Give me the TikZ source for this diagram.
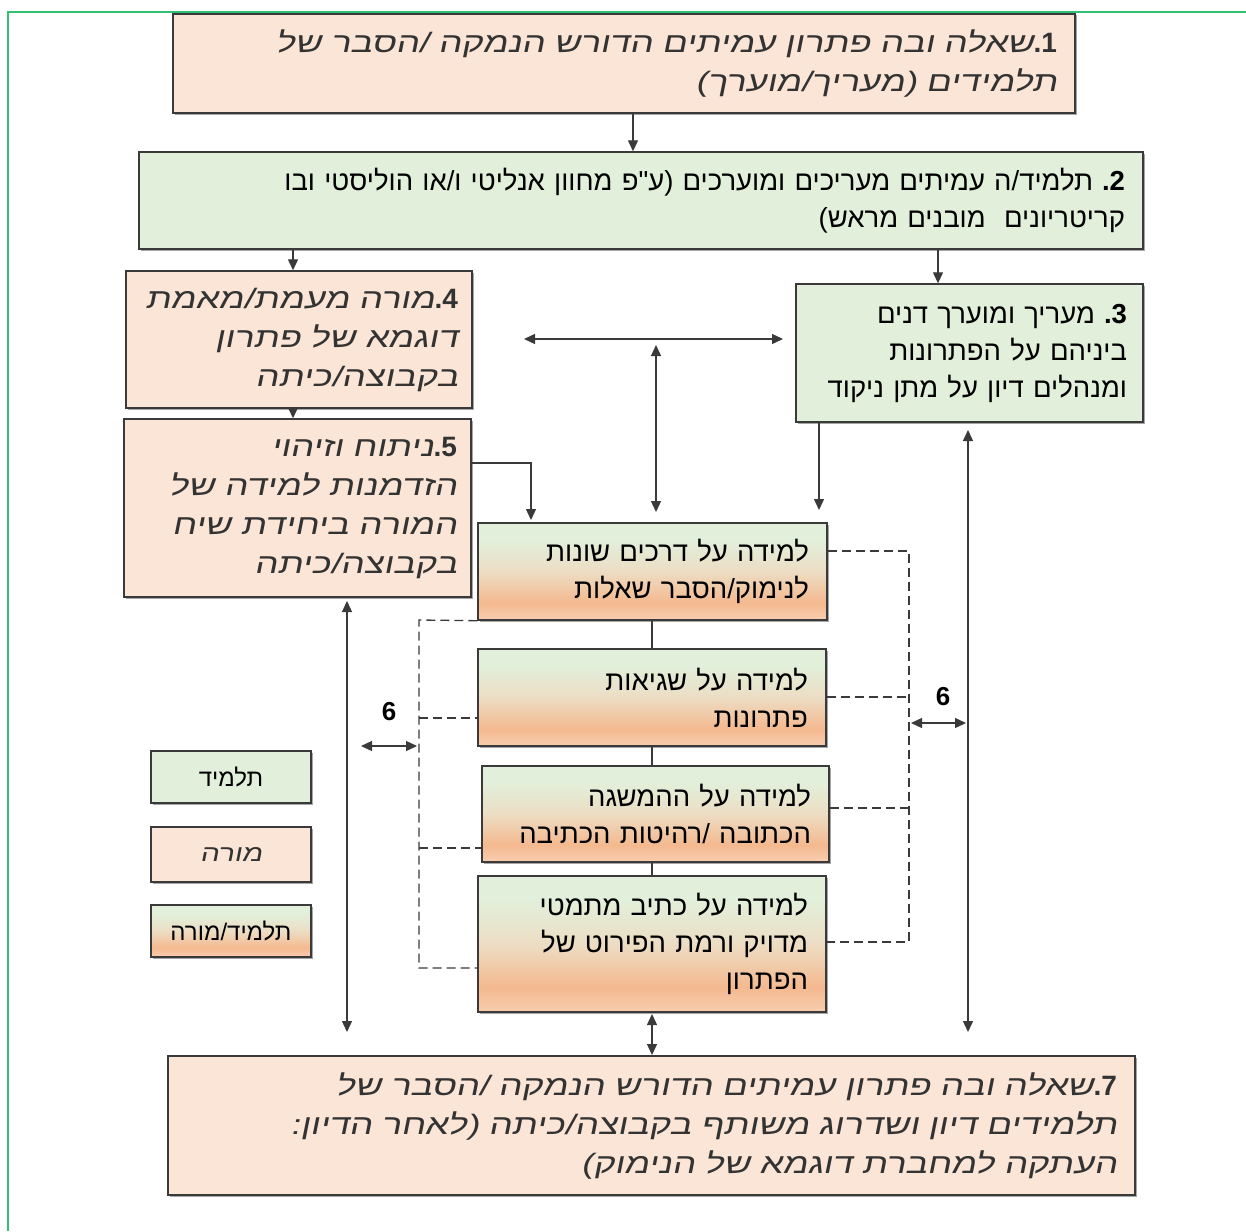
\documentclass[tikz,border=0pt]{standalone}
\usepackage{fontspec}
\usetikzlibrary{arrows.meta,shadows}
\TeXXeTstate=1
\newfontfamily\hebfont[Script=Hebrew]{Liberation Sans}
\newfontfamily\curfont[Script=Hebrew,FakeSlant=0.2,FakeStretch=1.3]{Liberation Sans}
\newcommand\hb[1]{\beginR#1\endR}
\newcommand\bnum[1]{\hbox{\hebfont\bfseries #1}\hbox{\hebfont\bfseries .}}
\definecolor{pinkf}{HTML}{FBE5D6}
\definecolor{greenf}{HTML}{E2EFDA}
\definecolor{bord}{HTML}{3A3A3A}
\definecolor{salm}{HTML}{F4B98F}
\definecolor{salmlt}{HTML}{F8CDB0}
\definecolor{beige}{HTML}{EDDDC4}
\definecolor{framec}{HTML}{33C072}
\definecolor{curtext}{HTML}{333333}
\pgfdeclareverticalshading{tmshade}{100bp}{color(0bp)=(salmlt); color(25bp)=(salmlt); color(34bp)=(salm); color(50bp)=(beige); color(66bp)=(greenf); color(100bp)=(greenf)}
\begin{document}
\begin{tikzpicture}[x=1pt,y=-1pt,
  box/.style={draw=bord, line width=1.4pt, rectangle, inner xsep=18pt, inner ysep=2pt, align=right,
    drop shadow={shadow xshift=1.5pt,shadow yshift=-1.5pt,opacity=0.35,fill=black}},
  stud/.style={box, fill=greenf, font=\hebfont\fontsize{27.5}{37}\selectfont},
  teach/.style={box, fill=pinkf, text=curtext, font=\curfont\fontsize{28}{39}\selectfont},
  mixed/.style={box, shading=tmshade, font=\hebfont\fontsize{27.5}{37}\selectfont},
  legend/.style={draw=bord, line width=1.4pt, rectangle, minimum width=160pt, align=center,
    drop shadow={shadow xshift=1.5pt,shadow yshift=-1.5pt,opacity=0.35,fill=black}},
  arr/.style={draw=bord, line width=1.3pt, -{Triangle[length=11pt,width=10pt]}},
  dbl/.style={draw=bord, line width=1.3pt, {Triangle[length=11pt,width=10pt]}-{Triangle[length=11pt,width=10pt]}},
  ln/.style={draw=bord, line width=1.3pt},
  dsh/.style={draw=bord, line width=1.3pt, dash pattern=on 9pt off 5pt},
  six/.style={font=\hebfont\bfseries\fontsize{26}{26}\selectfont, inner sep=0pt}]
\useasboundingbox (0,0) rectangle (1246,1231);
\fill[white] (0,0) rectangle (1246,1231);
\draw[framec, line width=1.6pt] (1246,12) -- (8,12) -- (8,1231);

% boxes
\node[teach, minimum width=902pt, minimum height=99pt, text width=866pt] (b1) at (624,63.5)
  {\hb{\bnum{1}שאלה ובה פתרון עמיתים הדורש הנמקה /הסבר של}\\ \hb{תלמידים (מעריך/מוערך)}};
\node[stud, minimum width=1004pt, minimum height=97pt, text width=968pt] (b2) at (641,200.5)
  {\hb{\bnum{2} תלמיד/ה עמיתים מעריכים ומוערכים (ע"פ מחוון אנליטי ו/או הוליסטי ובו}\\ \hb{קריטריונים \ מובנים מראש)}};
\node[teach, minimum width=346pt, minimum height=137pt, inner xsep=14pt, text width=318pt] (b4) at (299,339.5)
  {\hb{\bnum{4}מורה מעמת/מאמת}\\ \hb{דוגמא של פתרון}\\ \hb{בקבוצה/כיתה}};
\node[stud, minimum width=347pt, minimum height=138pt, inner xsep=16pt, text width=315pt] (b3) at (969.5,353)
  {\hb{\bnum{3} מעריך ומוערך דנים}\\ \hb{ביניהם על הפתרונות}\\ \hb{ומנהלים דיון על מתן ניקוד}};
\node[teach, minimum width=347pt, minimum height=178pt, inner xsep=14pt, text width=319pt] (b5) at (297.5,508)
  {\hb{\bnum{5}ניתוח וזיהוי}\\ \hb{הזדמנות למידה של}\\ \hb{המורה ביחידת שיח}\\ \hb{בקבוצה/כיתה}};
\node[mixed, minimum width=349pt, minimum height=97pt, text width=313pt] (A) at (652.5,571.5)
  {\hb{למידה על דרכים שונות}\\ \hb{לנימוק/הסבר שאלות}};
\node[mixed, minimum width=348pt, minimum height=97pt, text width=312pt] (B) at (652,697.5)
  {\hb{למידה על שגיאות}\\ \hb{פתרונות}};
\node[mixed, minimum width=347pt, minimum height=96pt, text width=311pt] (C) at (655.5,814)
  {\hb{למידה על ההמשגה}\\ \hb{הכתובה /רהיטות הכתיבה}};
\node[mixed, minimum width=348pt, minimum height=136pt, text width=312pt] (D) at (652,944)
  {\hb{למידה על כתיב מתמטי}\\ \hb{מדויק ורמת הפירוט של}\\ \hb{הפתרון}};
\node[teach, minimum width=967pt, minimum height=139pt, text width=931pt] (b7) at (651.5,1125.5)
  {\hb{\bnum{7}שאלה ובה פתרון עמיתים הדורש הנמקה /הסבר של}\\ \hb{תלמידים דיון ושדרוג משותף בקבוצה/כיתה (לאחר הדיון:}\\ \hb{העתקה למחברת דוגמא של הנימוק)}};

% legend
\node[legend, fill=greenf, minimum height=52pt, font=\hebfont\fontsize{24}{26}\selectfont] (L1) at (231,777) {\hb{תלמיד}};
\node[legend, fill=pinkf, minimum height=55pt, text=curtext, font=\curfont\fontsize{23}{26}\selectfont] (L2) at (231,854.5) {\hb{מורה}};
\node[legend, shading=tmshade, minimum height=52pt, font=\hebfont\fontsize{24}{26}\selectfont] (L3) at (231,931) {\hb{תלמיד/מורה}};

% connectors
\draw[arr] (633,0 |- b1.south) -- (633,0 |- b2.north);
\draw[arr] (293,0 |- b2.south) -- (293,0 |- b4.north);
\draw[arr] (938,0 |- b2.south) -- (938,0 |- b3.north);
\draw[arr] (293,0 |- b4.south) -- (293,0 |- b5.north);
\coordinate (h1) at (524,339);
\coordinate (h2) at (783,339);
\draw[dbl] (h1) -- (h2);
\coordinate (v1) at (656,345);
\coordinate (v2) at (656,512);
\draw[dbl] (v1) -- (v2);
\draw[arr] (819,0 |- b3.south) -- (819,510);
\draw[arr] (b5.east |- 0,463) -| (531,520);
\draw[ln] (652,0 |- A.south) -- (652,0 |- B.north);
\draw[ln] (652,0 |- B.south) -- (652,0 |- C.north);
\draw[ln] (652,0 |- C.south) -- (652,0 |- D.north);
\draw[dbl] (652,1014) -- (652,1055);
\coordinate (lt) at (347,601);
\coordinate (lb) at (347,1032);
\draw[dbl] (lt) -- (lb);
\coordinate (rt) at (968,430);
\coordinate (rb) at (968,1032);
\draw[dbl] (rt) -- (rb);

% dashed brackets
\draw[dsh] (A.south west) -- (419,620) -- (419,968) -- (D.west |- 0,968);
\draw[dsh] (419,718) -- (B.west |- 0,718);
\draw[dsh] (419,848) -- (C.west |- 0,848);
\draw[dsh] (A.east |- 0,551) -- (909,551) -- (909,942) -- (D.east |- 0,942);
\draw[dsh] (B.east |- 0,697) -- (909,697);
\draw[dsh] (C.east |- 0,808) -- (909,808);

% 6 arrows
\coordinate (s1a) at (361,746);
\coordinate (s1b) at (417,746);
\draw[dbl] (s1a) -- (s1b);
\node[six] (six1) at (389,712) {6};
\coordinate (s2a) at (911,723);
\coordinate (s2b) at (966,723);
\draw[dbl] (s2a) -- (s2b);
\node[six] (six2) at (943,697) {6};
\end{tikzpicture}
\end{document}
